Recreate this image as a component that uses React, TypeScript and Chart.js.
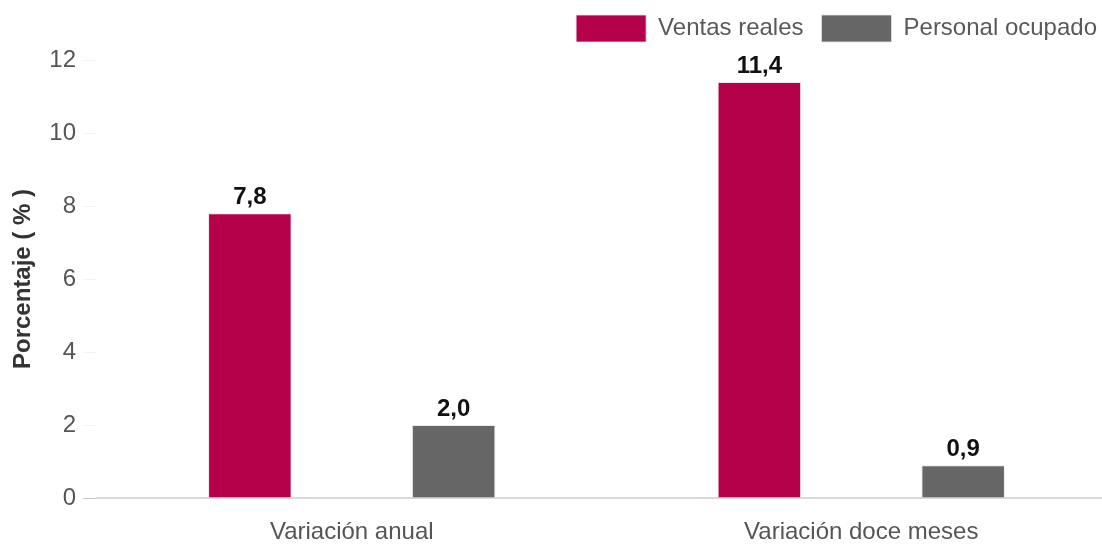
import React, { useEffect, useRef } from "react";
import { Chart, registerables } from "chart.js";

Chart.register(...registerables);

const categories = ["Variación anual", "Variación doce meses"];
const ventasReales = [7.8, 11.4];
const personalOcupado = [2.0, 0.9];
const seriesNames = ["Ventas reales", "Personal ocupado"];
const yTicks = [0, 2, 4, 6, 8, 10, 12];

const FONT = "'Liberation Sans', Arial, Helvetica, sans-serif";

const fmt = (v: number) => v.toFixed(1).replace(".", ",");

const valueLabels = {
  id: "valueLabels",
  afterDatasetsDraw(chart: any) {
    const ctx = chart.ctx;
    ctx.save();
    ctx.font = `bold 24px ${FONT}`;
    ctx.fillStyle = "#111111";
    ctx.textAlign = "center";
    ctx.textBaseline = "alphabetic";
    chart.data.datasets.forEach((ds: any, di: number) => {
      const meta = chart.getDatasetMeta(di);
      meta.data.forEach((bar: any, i: number) => {
        ctx.fillText(fmt(ds.data[i]), bar.x, bar.y - 9);
      });
    });
    ctx.restore();
  },
};

const legendTweak = {
  id: "legendTweak",
  beforeInit(chart: any) {
    const legend = chart.legend;
    if (legend) {
      const origFit = legend.fit;
      legend.fit = function () {
        origFit.call(this);
        this.height += 5;
      };
    }
  },
  afterLayout(chart: any) {
    const legend = chart.legend;
    if (legend) {
      legend.left -= 1;
      legend.right -= 1;
      legend.top -= 3;
      legend.bottom -= 3;
    }
  },
};

export default function App() {
  const ref = useRef<HTMLCanvasElement | null>(null);

  useEffect(() => {
    if (!ref.current) return;
    const chart = new Chart(ref.current, {
      type: "bar",
      data: {
        labels: categories,
        datasets: [
          {
            label: seriesNames[0],
            data: ventasReales,
            backgroundColor: "#B5004A",
            borderColor: "rgba(235,225,230,0.8)",
            borderWidth: 1,
            categoryPercentage: 0.8,
            barPercentage: 0.41,
          },
          {
            label: seriesNames[1],
            data: personalOcupado,
            backgroundColor: "#666666",
            borderColor: "rgba(230,230,230,0.8)",
            borderWidth: 1,
            categoryPercentage: 0.8,
            barPercentage: 0.41,
          },
        ],
      },
      options: {
        responsive: false,
        animation: false,
        layout: { padding: { top: 0, left: 0, right: 0, bottom: 0 } },
        plugins: {
          legend: {
            position: "top",
            align: "end",
            labels: {
              boxWidth: 70,
              boxHeight: 27,
              padding: 18,
              color: "#595959",
              font: { family: FONT, size: 24 },
            },
          },
          tooltip: { enabled: false },
        },
        scales: {
          x: {
            grid: { display: false },
            border: { color: "#d9d9d9", width: 2 },
            ticks: {
              color: "#555555",
              padding: 12,
              font: { family: FONT, size: 24 },
            },
            afterFit(scale: any) {
              scale.height = 46;
            },
          },
          y: {
            min: 0,
            max: 12,
            afterBuildTicks(scale: any) {
              scale.ticks = yTicks.map((v) => ({ value: v }));
            },
            grid: {
              drawOnChartArea: false,
              drawTicks: true,
              tickLength: 14,
              color: (c: any) => (c.tick && c.tick.value === 0 ? "#cccccc" : "#f3f3f3"),
            },
            border: { display: false },
            ticks: {
              color: "#555555",
              padding: 7,
              font: { family: FONT, size: 24 },
            },
            title: {
              display: true,
              text: "Porcentaje ( % )",
              color: "#333333",
              padding: { top: 9, bottom: 0 },
              font: { family: FONT, size: 24, weight: "bold" },
            },
            afterFit(scale: any) {
              scale.width = 97;
            },
          },
        },
      },
      plugins: [valueLabels, legendTweak],
    });
    return () => chart.destroy();
  }, []);

  return (
    <div
      style={{
        position: "fixed",
        left: 0,
        top: 0,
        width: 1102,
        height: 544,
        overflow: "hidden",
        background: "#ffffff",
      }}
    >
      <canvas ref={ref} width={1116} height={544} style={{ display: "block" }} />
    </div>
  );
}
